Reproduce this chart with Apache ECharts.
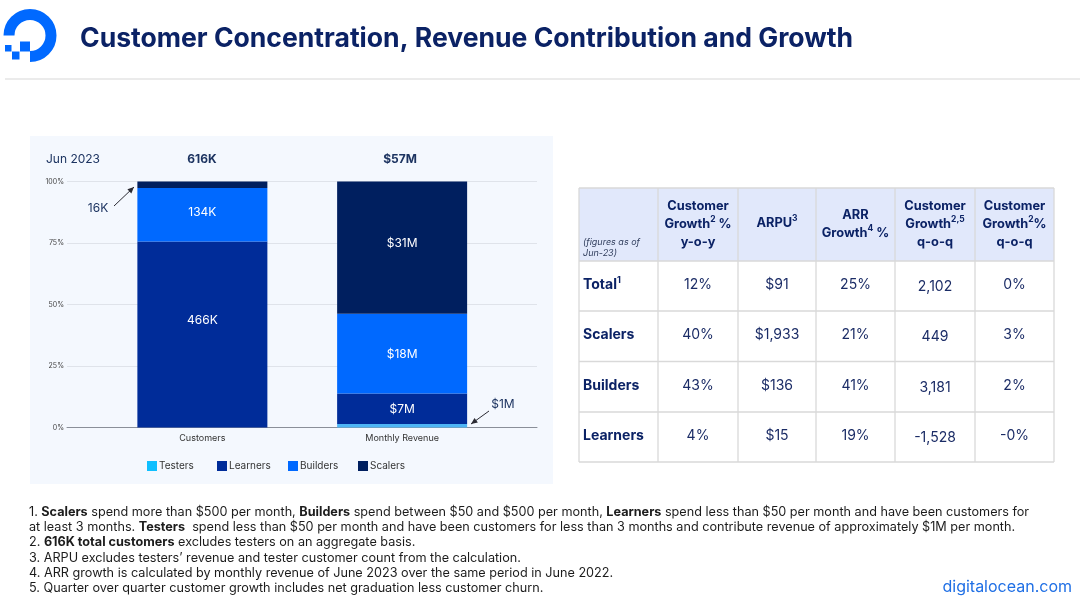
<!DOCTYPE html>
<html>
<head>
<meta charset="utf-8">
<title>Customer Concentration, Revenue Contribution and Growth</title>
<style>
  html, body { margin: 0; padding: 0; background: #fff; }
  #main { width: 1080px; height: 608px; }
</style>
<script src="https://cdn.jsdelivr.net/npm/echarts@6/dist/echarts.min.js"></script>
</head>
<body>
<div id="main"></div>
<script>
var categories = ['Customers', 'Monthly Revenue'];
var yTicks = [0, 25, 50, 75, 100];

// share of each bar in percent
var testers = [0, 1.4];
var learners = [75.6, 12.4];
var builders = [21.8, 32.4];
var scalers = [2.6, 53.8];

var learnerLabels = ['466K', '$7M'];
var builderLabels = ['134K', '$18M'];
var scalerLabels = ['', '$31M'];
var barTotals = ['616K', '$57M'];

var tableHeaders = [
  [['Customer'], ['Growth', '2', ' %'], ['y-o-y']],
  [['ARPU', '3']],
  [['ARR'], ['Growth', '4', ' %']],
  [['Customer'], ['Growth', '2,5'], ['q-o-q']],
  [['Customer'], ['Growth', '2', '%'], ['q-o-q']]
];
var rowNames = [['Total', '1'], ['Scalers'], ['Builders'], ['Learners']];
var tableValues = [
  ['12%', '$91', '25%', '2,102', '0%'],
  ['40%', '$1,933', '21%', '449', '3%'],
  ['43%', '$136', '41%', '3,181', '2%'],
  ['4%', '$15', '19%', '-1,528', '-0%']
];

var footnotes = [
  '1. {b|Scalers} spend more than $500 per month, {b|Builders} spend between $50 and $500 per month, {b|Learners} spend less than $50 per month and have been customers for',
  'at least 3 months. {b|Testers}  spend less than $50 per month and have been customers for less than 3 months and contribute revenue of approximately $1M per month.',
  '2. {b|616K total customers} excludes testers on an aggregate basis.',
  '3. ARPU excludes testers\u2019 revenue and tester customer count from the calculation.',
  '4. ARR growth is calculated by monthly revenue of June 2023 over the same period in June 2022.',
  '5. Quarter over quarter customer growth includes net graduation less customer churn.'
];

var NAVY = '#0b2265';
var FONT = 'Inter';
var colXs = [579, 658, 738, 816, 895, 975, 1054];
var rowYs = [188, 261, 311, 361.5, 412, 462];

// labels sit a little off the segment centre in the original, so nudge them per bar
function barSeries(name, values, color, labels, nudges) {
  return {
    name: name,
    type: 'bar',
    stack: 'share',
    barWidth: 130,
    xAxisIndex: 1,
    yAxisIndex: 1,
    data: values.map(function (v, i) {
      return { value: v, label: { offset: [0, nudges ? nudges[i] : 0] } };
    }),
    itemStyle: { color: color },
    label: {
      show: !!labels,
      position: 'inside',
      color: '#fff',
      fontFamily: FONT,
      fontSize: 12,
      formatter: function (p) { return labels ? labels[p.dataIndex] : ''; }
    }
  };
}

function legendAt(name, left) {
  return {
    data: [name],
    left: left,
    top: 461,
    itemWidth: 10,
    itemHeight: 10,
    itemGap: 0,
    padding: 0,
    icon: 'rect',
    selectedMode: false,
    textStyle: { color: '#333', fontFamily: FONT, fontSize: 10, padding: [0, 0, 0, -3] }
  };
}

function text(x, y, str, style, rich) {
  return {
    type: 'text',
    x: x,
    y: y,
    z: 20,
    style: Object.assign({
      text: str,
      fontFamily: FONT,
      fill: NAVY,
      verticalAlign: 'middle'
    }, style, rich ? { rich: rich } : {})
  };
}

function rect(x, y, w, h, fill) {
  return { type: 'rect', z: 1, shape: { x: x, y: y, width: w, height: h }, style: { fill: fill } };
}

function line(x1, y1, x2, y2, color, width) {
  return { type: 'line', z: 5, shape: { x1: x1, y1: y1, x2: x2, y2: y2 }, style: { stroke: color, lineWidth: width } };
}

// arrow with a small filled head at x2,y2
function arrow(x1, y1, x2, y2) {
  var a = Math.atan2(y2 - y1, x2 - x1);
  var size = 7, spread = 0.42;
  return [
    line(x1, y1, x2, y2, '#2b2b33', 1),
    {
      type: 'polygon',
      z: 5,
      shape: {
        points: [
          [x2, y2],
          [x2 - size * Math.cos(a - spread), y2 - size * Math.sin(a - spread)],
          [x2 - size * Math.cos(a + spread), y2 - size * Math.sin(a + spread)]
        ]
      },
      style: { fill: '#2b2b33' }
    }
  ];
}

function logo() {
  return [
    {
      type: 'arc',
      z: 5,
      shape: { cx: 30, cy: 35.5, r: 21, startAngle: Math.PI, endAngle: Math.PI * 2.5, clockwise: true },
      style: { stroke: '#0069ff', fill: 'none', lineWidth: 11 }
    },
    rect(20, 41.5, 10, 10, '#0069ff'),
    rect(12, 51.5, 7.5, 8, '#0069ff'),
    rect(5, 45, 6.5, 6.5, '#0069ff')
  ];
}

var headRich = {
  b: { fontFamily: FONT, fontSize: 12.8, fontWeight: 700, color: NAVY, lineHeight: 18 },
  s: { fontFamily: FONT, fontSize: 8.5, fontWeight: 700, color: NAVY, lineHeight: 18, verticalAlign: 'top' }
};

function richLine(parts) {
  return parts.map(function (p, i) { return (i === 1 && /^[0-9,]+$/.test(p) ? '{s|' : '{b|') + p + '}'; }).join('');
}

function table() {
  var out = [rect(colXs[0], rowYs[0], colXs[6] - colXs[0], rowYs[1] - rowYs[0], '#e1e8fb')];
  rowYs.forEach(function (y) { out.push(line(colXs[0], y, colXs[6], y, '#d9d9d9', 1.3)); });
  colXs.forEach(function (x) { out.push(line(x, rowYs[0], x, rowYs[5], '#d9d9d9', 1.3)); });

  out.push(text(583, 242, '(figures as of', { fontSize: 9, fontStyle: 'italic', fill: '#33405f' }));
  out.push(text(583, 253, 'Jun-23)', { fontSize: 9, fontStyle: 'italic', fill: '#33405f' }));

  var headerTops = [206, 223, 215, 206, 206];
  tableHeaders.forEach(function (lines, c) {
    var cx = (colXs[c + 1] + colXs[c + 2]) / 2;
    lines.forEach(function (parts, l) {
      out.push(text(cx, headerTops[c] + l * 18, richLine(parts), { align: 'center' }, headRich));
    });
  });

  rowNames.forEach(function (parts, r) {
    var cy = (rowYs[r + 1] + rowYs[r + 2]) / 2;
    var rich = {
      b: { fontFamily: FONT, fontSize: 14, fontWeight: 700, color: NAVY, lineHeight: 18 },
      s: { fontFamily: FONT, fontSize: 9, fontWeight: 700, color: NAVY, lineHeight: 18, verticalAlign: 'top' }
    };
    out.push(text(583, cy - 1, richLine(parts), {}, rich));
    tableValues[r].forEach(function (v, c) {
      var shift = c === 3 ? 1 : -1;
      out.push(text((colXs[c + 1] + colXs[c + 2]) / 2, cy + shift, v, { fontSize: 14, align: 'center', fill: '#1b2c66' }));
    });
  });
  return out;
}

function notes() {
  var rich = { b: { fontFamily: FONT, fontSize: 12.65, fontWeight: 700, color: '#1c1c1c' } };
  return footnotes.map(function (str, i) {
    return text(29, 512 + i * 15.3, str, { fontSize: 12.65, fill: '#1c1c1c' }, rich);
  });
}

var graphics = [].concat(
  [Object.assign(rect(30, 136, 523, 348, '#f4f8fe'), { z: -1 })],
  logo(),
  [line(5, 79, 1080, 79, '#d8d8d8', 1.2)],
  [text(80, 39.5, 'Customer Concentration, Revenue Contribution and Growth', { fontSize: 26.55, fontWeight: 700, fill: NAVY })],
  [text(46, 159, 'Jun 2023', { fontSize: 12, fill: '#1d3461' })],
  [text(202, 159, barTotals[0], { fontSize: 12, fontWeight: 700, align: 'center', fill: '#1d3461' })],
  [text(400, 159, barTotals[1], { fontSize: 12, fontWeight: 700, align: 'center', fill: '#1d3461' })],
  [text(98, 208, '16K', { fontSize: 12, align: 'center', fill: '#1d3461' })],
  [text(503, 404, '$1M', { fontSize: 12, align: 'center', fill: '#1d3461' })],
  arrow(114, 206, 134, 187),
  arrow(489, 411, 471, 424),
  table(),
  notes(),
  [text(1072, 587, 'digitalocean.com', { fontSize: 16, align: 'right', fill: '#1f6fe5' })]
);

var seriesList = [
  barSeries('Testers', testers, '#0fbfff', null),
  barSeries('Learners', learners, '#002c99', learnerLabels, [-14, 1]),
  barSeries('Builders', builders, '#0069ff', builderLabels, [-2, 1]),
  barSeries('Scalers', scalers, '#001f5f', scalerLabels, [0, -4])
];
// the thin testers slice on the revenue bar is paler than the legend swatch
seriesList[0].data[1].itemStyle = { color: '#4db5f5' };

var option = {
  animation: false,
  backgroundColor: '#fff',
  // wide grid carries the gridlines and baseline, narrow grid carries the bars
  grid: [
    { left: 67, width: 470, top: 181.5, height: 246 },
    { left: 102.5, width: 399.5, top: 181.5, height: 246 }
  ],
  xAxis: [
    {
      type: 'value',
      gridIndex: 0,
      min: 0,
      max: 1,
      splitLine: { show: false },
      axisTick: { show: false },
      axisLabel: { show: false },
      axisLine: { show: true, lineStyle: { color: '#8a8f99', width: 1 } }
    },
    {
      type: 'category',
      gridIndex: 1,
      data: categories,
      axisTick: { show: false },
      axisLine: { show: false },
      axisLabel: { color: '#333', fontFamily: FONT, fontSize: 9, margin: 6 }
    }
  ],
  yAxis: [
    {
      type: 'value',
      gridIndex: 0,
      min: yTicks[0],
      max: yTicks[4],
      interval: 25,
      axisLine: { show: false },
      axisTick: { show: false },
      axisLabel: { color: '#444', fontFamily: FONT, fontSize: 7, margin: 3, formatter: '{value}%' },
      splitLine: { lineStyle: { color: '#dfe3ea', width: 1 } }
    },
    {
      type: 'value',
      gridIndex: 1,
      min: yTicks[0],
      max: yTicks[4],
      interval: 25,
      axisLine: { show: false },
      axisTick: { show: false },
      axisLabel: { show: false },
      splitLine: { show: false }
    }
  ],
  legend: [legendAt('Testers', 147), legendAt('Learners', 217), legendAt('Builders', 288), legendAt('Scalers', 358)],
  series: seriesList,
  graphic: { elements: graphics }
};

var chart = echarts.init(document.getElementById('main'));
chart.setOption(option);
</script>
</body>
</html>
